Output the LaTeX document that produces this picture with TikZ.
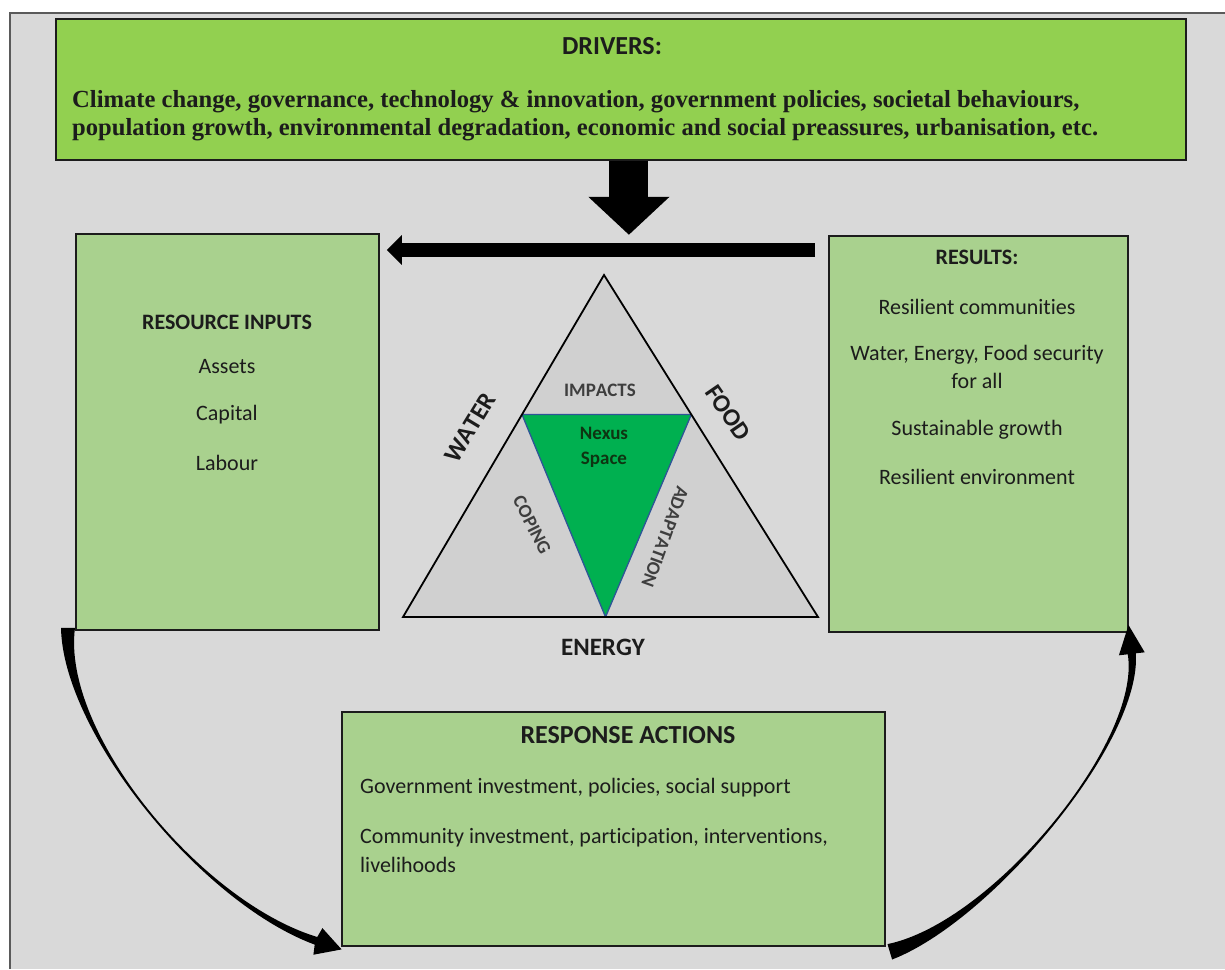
\documentclass[tikz,border=0pt]{standalone}
\usepackage{fontspec}
\setmainfont{Liberation Serif}
\newfontfamily\calib{Carlito}[Ligatures={NoCommon}]
\newfontfamily\calibflat{Carlito}[Ligatures={NoCommon},Kerning=Off]
\usetikzlibrary{arrows.meta,calc}

\definecolor{bg}{HTML}{D9D9D9}
\definecolor{framegray}{HTML}{5A5A5A}
\definecolor{drivergreen}{HTML}{92D050}
\definecolor{boxgreen}{HTML}{A9D18E}
\definecolor{nexusgreen}{HTML}{00B050}
\definecolor{trigray}{HTML}{D0D0D0}
\definecolor{edgeblue}{HTML}{2F5597}
\definecolor{ink}{HTML}{1C1C1C}
\definecolor{nexusink}{HTML}{0E3512}

\begin{document}
\begin{tikzpicture}[x=1pt,y=-1pt,
  panel/.style={draw=ink, line width=1.8pt, anchor=north west, inner sep=0pt},
  heading/.style={font=\calib\bfseries\fontsize{22}{26}\selectfont, text=ink, inner sep=0pt},
  bigheading/.style={font=\calib\bfseries\fontsize{26}{30}\selectfont, text=ink, inner sep=0pt},
  item/.style={font=\calib\fontsize{22}{28}\selectfont, text=ink, align=center, inner sep=0pt},
  lineitem/.style={font=\calib\fontsize{22}{27}\selectfont, text=ink, anchor=west, inner sep=0pt},
  driverline/.style={font=\bfseries\fontsize{24.6}{28}\selectfont, text=ink, anchor=west, inner sep=0pt},
  sidelabel/.style={font=\calibflat\bfseries\fontsize{25}{30}\selectfont, text=ink, inner sep=0pt},
  innerlabel/.style={font=\calibflat\bfseries\fontsize{19}{22}\selectfont, text=ink!85, inner sep=0pt},
  blockarrow/.style={draw=black, line width=#1},
  sweep/.style={fill=black}
]
% page and frame
\useasboundingbox (0,0) rectangle (1225,969);
\fill[white] (0,0) rectangle (1225,969);
\fill[bg] (10,13) rectangle (1225,969);
\draw[framegray, line width=2pt] (1225,13) -- (10,13) -- (10,969);

% boxes
\node[panel, fill=drivergreen, minimum width=1130pt, minimum height=141pt] (drivers) at (55,18) {};
\node[panel, fill=boxgreen, minimum width=303pt, minimum height=396pt] (inputs) at (75,233) {};
\node[panel, fill=boxgreen, minimum width=299pt, minimum height=396pt] (results) at (828,235) {};
\node[panel, fill=boxgreen, minimum width=543pt, minimum height=234pt] (response) at (341,711) {};

% drivers text
\node[bigheading] (drvtitle) at (612,46) {DRIVERS:};
\node[driverline] (drvline1) at (72,102) {Climate change, governance, technology \& innovation, government policies, societal behaviours,};
\node[driverline] (drvline2) at (72,130) {population growth, environmental degradation, economic and social preassures, urbanisation, etc.};

% resource inputs text
\node[heading] (intitle) at (227,322) {RESOURCE INPUTS};
\node[item] (assets) at (227,367) {Assets};
\node[item] (capital) at (227,415) {Capital};
\node[item] (labour) at (227,463) {Labour};

% results text
\node[heading] (restitle) at (977,257) {RESULTS:};
\node[item] (res1) at (977,307) {Resilient communities};
\node[item] (res2) at (977,367) {Water, Energy, Food security\\for all};
\node[item] (res3) at (977,430) {Sustainable growth};
\node[item] (res4) at (977,477) {Resilient environment};

% response actions text
\node[bigheading] (resptitle) at (628,735) {RESPONSE ACTIONS};
\node[lineitem] (resp1) at (360,788) {Government investment, policies, social support};
\node[lineitem] (resp2) at (360,838) {Community investment, participation, interventions,};
\node[lineitem] (resp3) at (360,865) {livelihoods};

% block arrows
\draw[blockarrow=39pt, -{Triangle[width=79pt,length=38pt]}]
  ([xshift=8pt]drivers.south) -- ++(0,74);
\draw[blockarrow=14pt, -{Triangle[width=29pt,length=15pt]}]
  ($(results.west |- 0,250)+(-13,0)$) -- ($(inputs.east |- 0,250)+(7,0)$);

% nexus triangle
\coordinate (apex) at (604,275);
\coordinate (wbase) at (403,617);
\coordinate (ebase) at (818,617);
\coordinate (nw) at ($(apex)!0.408!(wbase)$);
\coordinate (ne) at ($(apex)!0.408!(ebase)$);
\coordinate (nb) at ($(wbase)!0.488!(ebase)$);
\fill[trigray] (apex) -- (wbase) -- (ebase) -- cycle;
\filldraw[fill=nexusgreen, draw=edgeblue, line width=1.3pt, line join=round] (nw) -- (ne) -- (nb) -- cycle;
\draw[black, line width=1.8pt, line join=miter] (apex) -- (wbase) -- (ebase) -- cycle;

\node[innerlabel] (impacts) at (600,390) {IMPACTS};
\node[innerlabel, text=nexusink, align=center, font=\calib\bfseries\fontsize{19}{25}\selectfont] (nexus) at (604,447) {Nexus\\Space};
\node[innerlabel, rotate=-63.4] (coping) at (532,525) {COPING};
\node[innerlabel, rotate=-110] (adapt) at (665,537) {ADAPTATION};
\node[sidelabel, rotate=58.8] (water) at (470,428) {WATER};
\node[sidelabel, rotate=-55.5] (food) at (728,413) {FOOD};
\node[sidelabel] (energy) at (603,647) {ENERGY};

% tapered curved arrow: resource inputs -> response actions
\begin{scope}[shift={(inputs.south west)}]
\fill[sweep] (-14,-3) .. controls (-12.2,101) and (124.9,271.3) .. (239.7,313.8)
  -- (238.4,323.9) -- (266.6,318.6) -- (247.4,297.3) -- (242.3,306.2)
  .. controls (125.1,270.7) and (-13.8,101) .. (0,-3) -- cycle;
\end{scope}

% tapered curved arrow: response actions -> results
\begin{scope}[shift={(response.south east)}]
\fill[sweep] (6.3,12.7) .. controls (105.8,-25.8) and (256.3,-205) .. (250,-293.5)
  -- (258.9,-294.5) -- (242.7,-321.8) -- (233.1,-291.5) -- (242,-292.5)
  .. controls (255.7,-205) and (106.2,-24.2) .. (1.7,-2.7) -- cycle;
\end{scope}
\end{tikzpicture}
\end{document}
